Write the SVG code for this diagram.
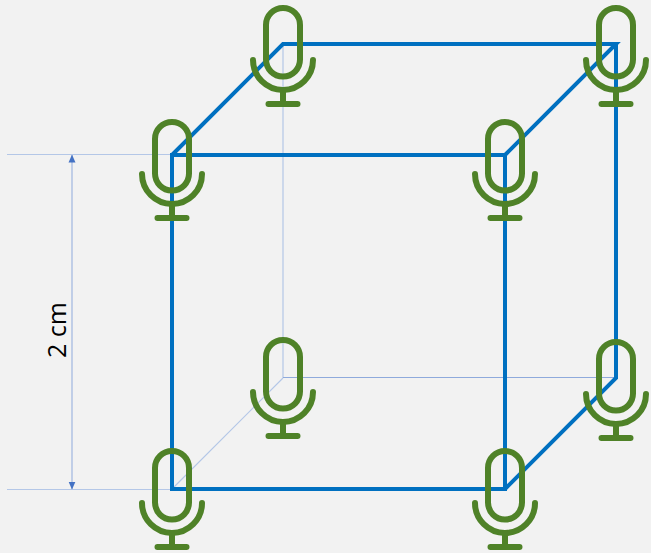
<svg xmlns="http://www.w3.org/2000/svg" xmlns:xlink="http://www.w3.org/1999/xlink" width="651" height="553" viewBox="0 0 651 553">
<style>
.edge{fill:none;stroke:#0070c0;stroke-width:4;stroke-linejoin:miter}
.thin{fill:none;stroke:#b4c7e7;stroke-width:1.2}
.dim{fill:none;stroke:#8faadc;stroke-width:1}
.mic *{fill:none;stroke:#4f8228;stroke-width:6;stroke-linecap:round}
text{font-family:"Open Sans","Liberation Sans",sans-serif;font-size:25px;fill:#000}
</style>
<defs>
<marker id="ah" viewBox="0 0 8 8" refX="7.5" refY="4" markerWidth="8" markerHeight="8" markerUnits="userSpaceOnUse" orient="auto-start-reverse"><path d="M0,0.5L8,4L0,7.5z" fill="#4472c4"/></marker>
<g id="m" class="mic">
<rect x="-17" y="3" width="34" height="68.500" rx="17" ry="17"/>
<path d="M-30,55A30,30 0 0 0 30,55"/>
<path d="M0,85V99M-14.500,99H14.500"/>
</g>
</defs>
<rect width="651" height="553" fill="#f2f2f2"/>
<g id="connectors">
<path class="thin" d="M283,44V378M172,489L283,378"/>
<path class="dim" d="M283,377.500H616"/>
<path class="thin" d="M7,154.500H172M7,489.500H172"/>
<path class="dim" d="M72,155V489" marker-start="url(#ah)" marker-end="url(#ah)"/>
<path class="edge" d="M172,489V155H505V489Z"/>
<path class="edge" d="M172,155L283,44H616L505,155M616,44V378L505,489"/>
</g>
<g id="label"><text transform="translate(66,330) rotate(-90)" text-anchor="middle">2 cm</text></g>
<g id="mic-back-bottom-left"><use xlink:href="#m" href="#m" x="283" y="337"/></g>
<g id="mic-back-bottom-right"><use xlink:href="#m" href="#m" x="616" y="339"/></g>
<g id="mic-back-top-left"><use xlink:href="#m" href="#m" x="283" y="5"/></g>
<g id="mic-back-top-right"><use xlink:href="#m" href="#m" x="616" y="5"/></g>
<g id="mic-front-top-left"><use xlink:href="#m" href="#m" x="172" y="119"/></g>
<g id="mic-front-top-right"><use xlink:href="#m" href="#m" x="505" y="119"/></g>
<g id="mic-front-bottom-left"><use xlink:href="#m" href="#m" x="172" y="448"/></g>
<g id="mic-front-bottom-right"><use xlink:href="#m" href="#m" x="505" y="448"/></g>
</svg>
